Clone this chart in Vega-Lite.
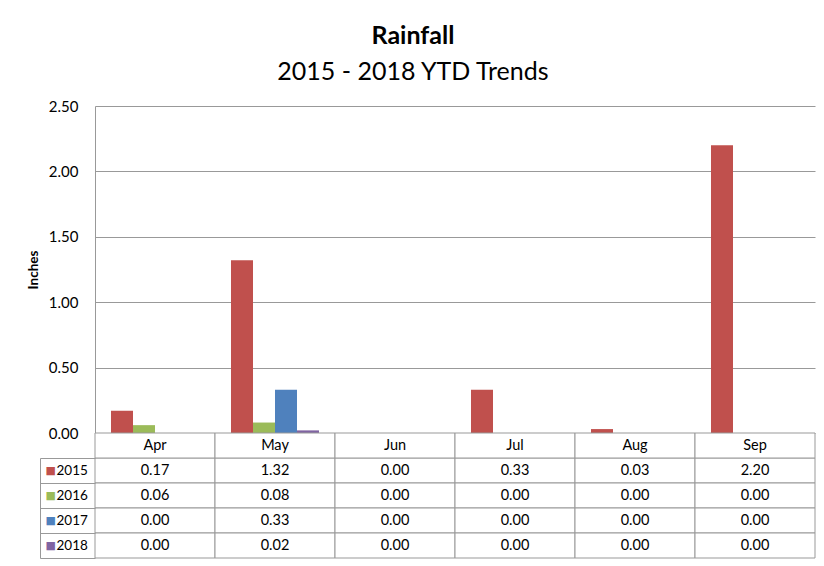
{
  "$schema": "https://vega.github.io/schema/vega-lite/v6.json",
  "background": "white",
  "padding": {"left": 26, "top": 24, "right": 10, "bottom": 5},
  "bounds": "flush",
  "title": {
    "text": "Rainfall",
    "subtitle": "2015 - 2018 YTD Trends",
    "font": "Lato",
    "subtitleFont": "Lato",
    "fontSize": 25,
    "fontWeight": "bold",
    "subtitleFontSize": 25,
    "subtitleFontWeight": "normal",
    "color": "black",
    "subtitleColor": "black",
    "anchor": "middle",
    "frame": "bounds",
    "subtitlePadding": 11,
    "offset": 14,
    "dx": -8
  },
  "datasets": {
    "rain": [
      {"month": "Apr", "year": "2015", "value": 0.17},
      {"month": "May", "year": "2015", "value": 1.32},
      {"month": "Jun", "year": "2015", "value": 0.0},
      {"month": "Jul", "year": "2015", "value": 0.33},
      {"month": "Aug", "year": "2015", "value": 0.03},
      {"month": "Sep", "year": "2015", "value": 2.2},
      {"month": "Apr", "year": "2016", "value": 0.06},
      {"month": "May", "year": "2016", "value": 0.08},
      {"month": "Jun", "year": "2016", "value": 0.0},
      {"month": "Jul", "year": "2016", "value": 0.0},
      {"month": "Aug", "year": "2016", "value": 0.0},
      {"month": "Sep", "year": "2016", "value": 0.0},
      {"month": "Apr", "year": "2017", "value": 0.0},
      {"month": "May", "year": "2017", "value": 0.33},
      {"month": "Jun", "year": "2017", "value": 0.0},
      {"month": "Jul", "year": "2017", "value": 0.0},
      {"month": "Aug", "year": "2017", "value": 0.0},
      {"month": "Sep", "year": "2017", "value": 0.0},
      {"month": "Apr", "year": "2018", "value": 0.0},
      {"month": "May", "year": "2018", "value": 0.02},
      {"month": "Jun", "year": "2018", "value": 0.0},
      {"month": "Jul", "year": "2018", "value": 0.0},
      {"month": "Aug", "year": "2018", "value": 0.0},
      {"month": "Sep", "year": "2018", "value": 0.0}
    ]
  },
  "spacing": 0,
  "vconcat": [
    {
      "width": 720,
      "height": 327,
      "data": {"name": "rain"},
      "mark": {"type": "bar"},
      "encoding": {
        "x": {
          "field": "month", "type": "nominal",
          "scale": {"domain": ["Apr", "May", "Jun", "Jul", "Aug", "Sep"], "paddingInner": 0, "paddingOuter": 0},
          "axis": null
        },
        "xOffset": {
          "field": "year", "type": "nominal",
          "scale": {"domain": ["2015", "2016", "2017", "2018"], "paddingInner": 0, "paddingOuter": 0.727}
        },
        "y": {
          "field": "value", "type": "quantitative",
          "scale": {"domain": [0, 2.5], "nice": false, "zero": true},
          "axis": {
            "values": [0, 0.5, 1, 1.5, 2, 2.5],
            "format": ".2f",
            "title": "Inches",
            "titleFont": "Lato",
            "titleFontSize": 13.5,
            "titleFontWeight": "bold",
            "titleColor": "black",
            "titlePadding": 8,
            "labelFont": "Lato",
            "labelFontSize": 15,
            "labelColor": "black",
            "labelPadding": 17,
            "ticks": false,
            "domain": true,
            "domainColor": "#999999",
            "grid": true,
            "gridColor": "#999999"
          }
        },
        "color": {
          "field": "year", "type": "nominal",
          "scale": {"domain": ["2015", "2016", "2017", "2018"], "range": ["#C0504D", "#9BBB59", "#4F81BD", "#8064A2"]},
          "legend": null
        }
      }
    },
    {
      "width": 720,
      "height": 125,
      "data": {"name": "rain"},
      "resolve": {"scale": {"y": "independent"}},
      "layer": [
        {
          "mark": {"type": "rect", "fill": "white", "stroke": "#999999", "strokeWidth": 1},
          "encoding": {
            "x": {"field": "month", "type": "nominal", "scale": {"domain": ["Apr", "May", "Jun", "Jul", "Aug", "Sep"], "paddingInner": 0, "paddingOuter": 0}, "axis": null},
            "y": {
              "field": "year", "type": "nominal",
              "scale": {"domain": ["hdr", "2015", "2016", "2017", "2018"], "paddingInner": 0, "paddingOuter": 0},
              "axis": {
                "title": null,
                "domain": false,
                "grid": false,
                "ticks": true,
                "tickSize": 55,
                "tickColor": "#999999",
                "bandPosition": 1,
                "labels": true,
                "labelExpr": "datum.value == 'hdr' ? '' : '■'",
                "labelFont": "DejaVu Sans",
                "labelFontSize": 11,
                "labelAlign": "left",
                "labelBaseline": "middle",
                "labelPadding": -5,
                "labelOverlap": false,
                "labelColor": {
                  "condition": [
                    {"test": "datum.value == '2015'", "value": "#C0504D"},
                    {"test": "datum.value == '2016'", "value": "#9BBB59"},
                    {"test": "datum.value == '2017'", "value": "#4F81BD"}
                  ],
                  "value": "#8064A2"
                }
              }
            }
          }
        },
        {
          "transform": [{"filter": "datum.year == '2015'"}],
          "mark": {"type": "rect", "fill": "white", "stroke": "#999999", "strokeWidth": 1},
          "encoding": {
            "x": {"field": "month", "type": "nominal", "scale": {"domain": ["Apr", "May", "Jun", "Jul", "Aug", "Sep"], "paddingInner": 0, "paddingOuter": 0}, "axis": null},
            "y": {"datum": "hdr", "type": "nominal", "scale": {"domain": ["hdr", "2015", "2016", "2017", "2018"], "paddingInner": 0, "paddingOuter": 0}, "axis": null}
          }
        },
        {
          "mark": {"type": "text", "font": "Lato", "fontSize": 14.5, "color": "black", "align": "center", "baseline": "middle"},
          "encoding": {
            "x": {"field": "month", "type": "nominal", "scale": {"domain": ["Apr", "May", "Jun", "Jul", "Aug", "Sep"], "paddingInner": 0, "paddingOuter": 0}, "axis": null},
            "y": {"field": "year", "type": "nominal", "scale": {"domain": ["hdr", "2015", "2016", "2017", "2018"], "paddingInner": 0, "paddingOuter": 0}, "axis": null},
            "text": {"field": "value", "type": "quantitative", "format": ".2f"}
          }
        },
        {
          "transform": [{"filter": "datum.year == '2015'"}],
          "mark": {"type": "text", "font": "Lato", "fontSize": 14.5, "color": "black", "align": "center", "baseline": "middle"},
          "encoding": {
            "x": {"field": "month", "type": "nominal", "scale": {"domain": ["Apr", "May", "Jun", "Jul", "Aug", "Sep"], "paddingInner": 0, "paddingOuter": 0}, "axis": null},
            "y": {"datum": "hdr", "type": "nominal", "scale": {"domain": ["hdr", "2015", "2016", "2017", "2018"], "paddingInner": 0, "paddingOuter": 0}, "axis": null},
            "text": {"field": "month", "type": "nominal"}
          }
        },
        {
          "mark": {"type": "rect", "opacity": 0},
          "encoding": {
            "x": {"field": "month", "type": "nominal", "scale": {"domain": ["Apr", "May", "Jun", "Jul", "Aug", "Sep"], "paddingInner": 0, "paddingOuter": 0}, "axis": null},
            "y": {
              "field": "year", "type": "nominal",
              "scale": {"domain": ["2015", "2016", "2017", "2018"], "range": [25, 125], "paddingInner": 0, "paddingOuter": 0},
              "axis": {
                "title": null,
                "orient": "left",
                "offset": 55,
                "domain": true,
                "domainColor": "#999999",
                "ticks": false,
                "grid": false,
                "labelFont": "Lato",
                "labelFontSize": 13.5,
                "labelColor": "black",
                "labelAlign": "left",
                "labelBaseline": "middle",
                "labelPadding": -16,
                "labelOverlap": false
              }
            }
          }
        }
      ]
    }
  ],
  "config": {
    "view": {"stroke": null},
    "font": "Lato"
  }
}
